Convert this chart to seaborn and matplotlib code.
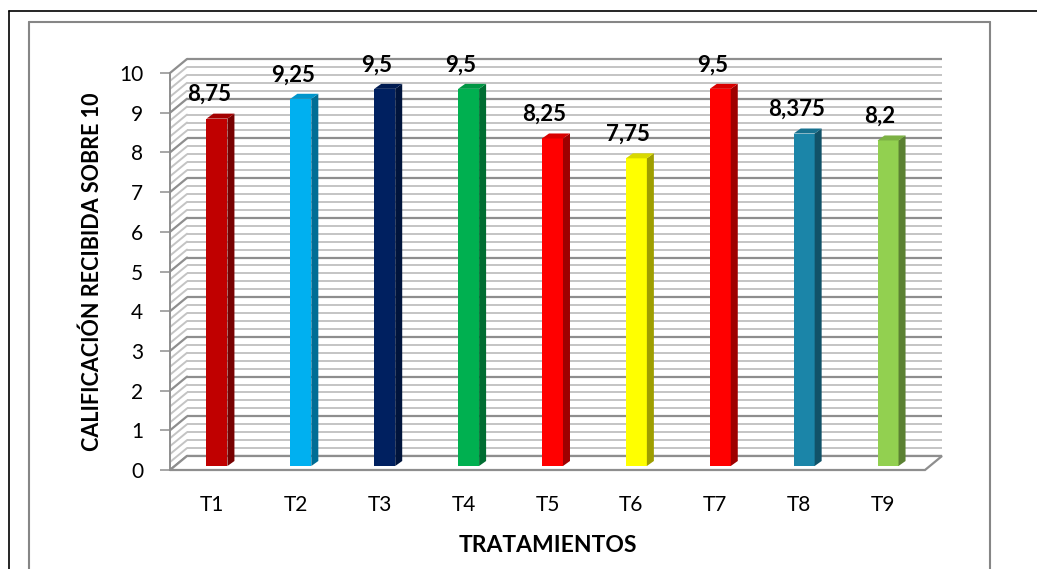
import numpy as np
import matplotlib
matplotlib.use("Agg")
import matplotlib.pyplot as plt
import matplotlib.transforms as mtransforms
from matplotlib.patches import Polygon
from matplotlib.lines import Line2D
from matplotlib.colors import to_rgb
import seaborn as sns
import pandas as pd

# Datos
tratamientos = ["T1", "T2", "T3", "T4", "T5", "T6", "T7", "T8", "T9"]
calificacion = [8.75, 9.25, 9.5, 9.5, 8.25, 7.75, 9.5, 8.375, 8.2]
etiquetas = ["8,75", "9,25", "9,5", "9,5", "8,25", "7,75", "9,5", "8,375", "8,2"]
colores = ["#C00000", "#00B0F0", "#002060", "#00B050", "#FF0000",
           "#FFFF00", "#FF0000", "#1B85A8", "#92D050"]
y_ticks = [0, 1, 2, 3, 4, 5, 6, 7, 8, 9, 10]

sns.set_style("white")
plt.rcParams["font.family"] = ["Lato", "DejaVu Sans"]

W, H = 1037, 569
DPI = 100
fig = plt.figure(figsize=(W / DPI, H / DPI), dpi=DPI)
fig.patch.set_facecolor("white")

# front plane of the 3D box (pixel layout)
x_left, x_right, y_bot, y_top = 170, 925, 470, 73
ax = fig.add_axes([x_left / W, (H - y_bot) / H, (x_right - x_left) / W, (y_bot - y_top) / H])
ax.set_xlim(-0.5, 8.5)
ax.set_ylim(0, 10)
ax.set_facecolor("none")


def shift(dx, dy):
    return mtransforms.ScaledTranslation(dx / DPI, dy / DPI, fig.dpi_scale_trans)


ident = mtransforms.IdentityTransform()
DEPTH = (17, 14)       # depth of the box (back wall offset, px)
BAR_OFF = (5, 4)       # bars sit slightly behind the front plane
BAR_DEPTH = (7, 5)     # thickness of each bar

GRID_MAJOR = "#8e8e8e"
GRID_MINOR = "#c4c4c4"

# back wall + left wall grid lines
wall = ax.transData + shift(*DEPTH)
levels = np.round(np.arange(0, 10.001, 0.2), 1)
for v in levels:
    major = abs(v - round(v)) < 1e-6
    c = GRID_MAJOR if major else GRID_MINOR
    lw = 1.6 if major else 1.4
    ax.plot([-0.5, 8.5], [v, v], transform=wall, color=c, lw=lw,
            zorder=1, clip_on=False, solid_capstyle="butt")
    x0, y0 = ax.transData.transform((-0.5, v))
    ax.add_line(Line2D([x0, x0 + DEPTH[0]], [y0, y0 + DEPTH[1]], transform=ident,
                       color=c, lw=lw, zorder=1, clip_on=False))

# floor
fl = ax.transData.transform((-0.5, 0))
fr = ax.transData.transform((8.5, 0))
floor = Polygon([fl, fr, fr + np.array(DEPTH), fl + np.array(DEPTH)], closed=True,
                transform=ident, facecolor="white", edgecolor=GRID_MAJOR, lw=1.6,
                zorder=2, clip_on=False)
ax.add_patch(floor)

# bars
df = pd.DataFrame({"Tratamiento": tratamientos, "Calificación": calificacion})
sns.barplot(data=df, x="Tratamiento", y="Calificación", hue="Tratamiento",
            palette=colores, width=0.25, saturation=1, legend=False, ax=ax, zorder=3)

bar_tr = ax.transData + shift(*BAR_OFF)
for p in list(ax.patches):
    if p is floor:
        continue
    p.set_transform(bar_tr)
    p.set_clip_on(False)
    p.set_edgecolor("none")
    x0, w, h = p.get_x(), p.get_width(), p.get_height()
    base = np.array(to_rgb(p.get_facecolor()))
    a = ax.transData.transform((x0 + w, 0)) + np.array(BAR_OFF)
    b = ax.transData.transform((x0 + w, h)) + np.array(BAR_OFF)
    c0 = ax.transData.transform((x0, h)) + np.array(BAR_OFF)
    d = np.array(BAR_DEPTH)
    ax.add_patch(Polygon([a, b, b + d, a + d], closed=True, transform=ident,
                         facecolor=base * 0.62, edgecolor="none", zorder=3, clip_on=False))
    ax.add_patch(Polygon([c0, b, b + d, c0 + d], closed=True, transform=ident,
                         facecolor=base * 0.85, edgecolor="none", zorder=3, clip_on=False))

# value labels
for i, (v, t) in enumerate(zip(calificacion, etiquetas)):
    ax.annotate(t, xy=(i, v), xytext=(-3, 28), textcoords="offset pixels",
                ha="center", va="center", fontsize=16, fontweight="bold",
                color="black", zorder=5, annotation_clip=False)

# axes styling
for s in ["top", "right", "bottom"]:
    ax.spines[s].set_visible(False)
ax.spines["left"].set_color(GRID_MAJOR)
ax.spines["left"].set_linewidth(1.4)
ax.set_yticks(y_ticks)
ax.tick_params(axis="y", length=7.2, width=1.1, color=GRID_MAJOR, pad=12,
               labelsize=15, labelcolor="black", left=True)
ax.tick_params(axis="x", length=0, pad=18, labelsize=15, labelcolor="black")

ax.set_xlabel("TRATAMIENTOS", fontsize=16.5, fontweight="bold", color="black")
ax.xaxis.label.set_va("center")
ax.xaxis.set_label_coords(0.5, (y_bot - 546) / (y_bot - y_top))
ax.set_ylabel("CALIFICACIÓN RECIBIDA SOBRE 10", fontsize=15.5, fontweight="bold", color="black")
ax.yaxis.label.set_va("center")
ax.yaxis.set_label_coords((92 - x_left) / (x_right - x_left), 0.5)

# frames around the chart
fig.add_artist(Line2D([9 / W, 1], [1 - 11 / H, 1 - 11 / H], color="black", lw=1.2))
fig.add_artist(Line2D([9 / W, 9 / W], [0, 1 - 11 / H], color="black", lw=1.2))
gray = "#868686"
fig.add_artist(Line2D([29 / W, 990 / W], [1 - 22 / H, 1 - 22 / H], color=gray, lw=1.5))
fig.add_artist(Line2D([29 / W, 29 / W], [0, 1 - 22 / H], color=gray, lw=1.5))
fig.add_artist(Line2D([990 / W, 990 / W], [0, 1 - 22 / H], color=gray, lw=1.5))

fig.savefig("out.png", dpi=DPI)
